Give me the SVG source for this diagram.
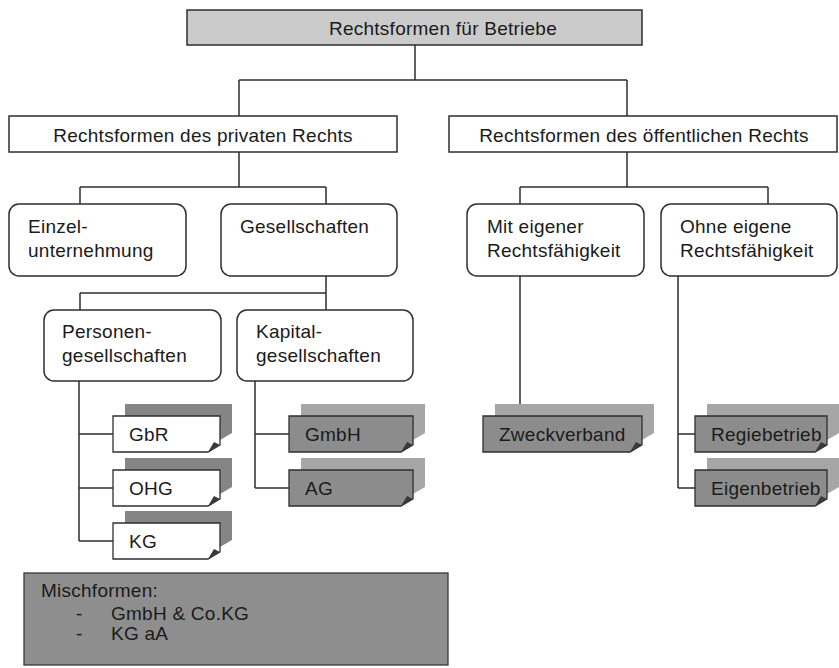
<svg xmlns="http://www.w3.org/2000/svg" width="839" height="668" viewBox="0 0 839 668">
<style>
text{font-family:"Liberation Sans",Arial,sans-serif;font-size:19px;letter-spacing:0.25px;fill:#1a1a1a}
.c{text-anchor:middle}
.box{fill:#fff;stroke:#2e2e2e;stroke-width:1.5}
.top{fill:#cbcbcb;stroke:#2e2e2e;stroke-width:1.5}
.conn{fill:none;stroke:#2e2e2e;stroke-width:1.5}
.nw{fill:#fff;stroke:#2e2e2e;stroke-width:1.3}
.nd{fill:#8c8c8c;stroke:#2e2e2e;stroke-width:1.3}
.sw{fill:#858585}
.sd{fill:#a6a6a6}
.fold{fill:#3a3a3a}
.misch{fill:#8e8e8e;stroke:#3a3a3a;stroke-width:1.3}
</style>
<defs>
<path id="nS" d="M0,0 H107 V29 L95,36 H0 Z"/>
<path id="nM" d="M0,0 H124 V29 L112,36 H0 Z"/>
<path id="nL" d="M0,0 H159 V29 L147,36 H0 Z"/>
<path id="nR" d="M0,0 H132 V29 L120,36 H0 Z"/>
</defs>

<g id="connectors" class="conn">
<path d="M415,45 V80 M239,80 H627 M239,80 V116 M627,80 V116"/>
<path d="M239,152 V187 M80,187 H326 M80,187 V204 M326,187 V204"/>
<path d="M326,276 V293 M80,293 H326 M80,293 V310 M326,293 V310"/>
<path d="M79,381 V541 M79,434 H113 M79,488 H113 M79,541 H113"/>
<path d="M255,381 V488 M255,434 H289 M255,488 H289"/>
<path d="M627,152 V187 M520,187 H768 M520,187 V204 M768,187 V204"/>
<path d="M520,276 V416"/>
<path d="M678,276 V488 M678,434 H695 M678,488 H695"/>
</g>

<g id="root">
<rect class="top" x="187" y="10" width="455" height="35"/>
<text class="c" x="443" y="35">Rechtsformen für Betriebe</text>
</g>

<g id="privat">
<rect class="box" x="9" y="116" width="388" height="36"/>
<text class="c" x="203" y="142">Rechtsformen des privaten Rechts</text>
</g>

<g id="oeffentlich">
<rect class="box" x="449" y="116" width="388" height="36"/>
<text class="c" x="644" y="142">Rechtsformen des öffentlichen Rechts</text>
</g>

<g id="einzel">
<rect class="box" x="9" y="204" width="177" height="72" rx="10"/>
<text x="28" y="233">Einzel-</text>
<text x="28" y="257">unternehmung</text>
</g>

<g id="gesellschaften">
<rect class="box" x="221" y="204" width="176" height="72" rx="10"/>
<text x="240" y="233">Gesellschaften</text>
</g>

<g id="personen">
<rect class="box" x="44" y="310" width="177" height="71" rx="10"/>
<text x="62" y="338">Personen-</text>
<text x="62" y="362">gesellschaften</text>
</g>

<g id="kapital">
<rect class="box" x="237" y="310" width="176" height="71" rx="10"/>
<text x="256" y="338">Kapital-</text>
<text x="256" y="362">gesellschaften</text>
</g>

<g id="mit">
<rect class="box" x="467" y="204" width="177" height="72" rx="10"/>
<text x="487" y="233">Mit eigener</text>
<text x="487" y="257">Rechtsfähigkeit</text>
</g>

<g id="ohne">
<rect class="box" x="661" y="204" width="176" height="72" rx="10"/>
<text x="680" y="233">Ohne eigene</text>
<text x="680" y="257">Rechtsfähigkeit</text>
</g>

<g id="gbr" transform="translate(113,416)">
<use href="#nS" class="sw" x="12" y="-12"/>
<use href="#nS" class="nw"/>
<path class="fold" d="M95,36 L107,29 L101,26 Z"/>
<text x="16" y="25">GbR</text>
</g>

<g id="ohg" transform="translate(113,470)">
<use href="#nS" class="sw" x="12" y="-12"/>
<use href="#nS" class="nw"/>
<path class="fold" d="M95,36 L107,29 L101,26 Z"/>
<text x="16" y="25">OHG</text>
</g>

<g id="kg" transform="translate(113,523)">
<use href="#nS" class="sw" x="12" y="-12"/>
<use href="#nS" class="nw"/>
<path class="fold" d="M95,36 L107,29 L101,26 Z"/>
<text x="16" y="25">KG</text>
</g>

<g id="gmbh" transform="translate(289,416)">
<use href="#nM" class="sd" x="12" y="-12"/>
<use href="#nM" class="nd"/>
<path class="fold" d="M112,36 L124,29 L118,26 Z"/>
<text x="16" y="25">GmbH</text>
</g>

<g id="ag" transform="translate(289,470)">
<use href="#nM" class="sd" x="12" y="-12"/>
<use href="#nM" class="nd"/>
<path class="fold" d="M112,36 L124,29 L118,26 Z"/>
<text x="16" y="25">AG</text>
</g>

<g id="zweckverband" transform="translate(483,416)">
<use href="#nL" class="sd" x="12" y="-12"/>
<use href="#nL" class="nd"/>
<path class="fold" d="M147,36 L159,29 L153,26 Z"/>
<text x="16" y="25">Zweckverband</text>
</g>

<g id="regiebetrieb" transform="translate(695,416)">
<use href="#nR" class="sd" x="12" y="-12"/>
<use href="#nR" class="nd"/>
<path class="fold" d="M120,36 L132,29 L126,26 Z"/>
<text x="16" y="25">Regiebetrieb</text>
</g>

<g id="eigenbetrieb" transform="translate(695,470)">
<use href="#nR" class="sd" x="12" y="-12"/>
<use href="#nR" class="nd"/>
<path class="fold" d="M120,36 L132,29 L126,26 Z"/>
<text x="16" y="25">Eigenbetrieb</text>
</g>

<g id="mischformen">
<rect class="misch" x="24" y="573" width="424" height="92"/>
<text x="41" y="597">Mischformen:</text>
<text x="76" y="620">-</text>
<text x="111" y="620">GmbH &amp; Co.KG</text>
<text x="76" y="640">-</text>
<text x="111" y="640">KG aA</text>
</g>
</svg>
